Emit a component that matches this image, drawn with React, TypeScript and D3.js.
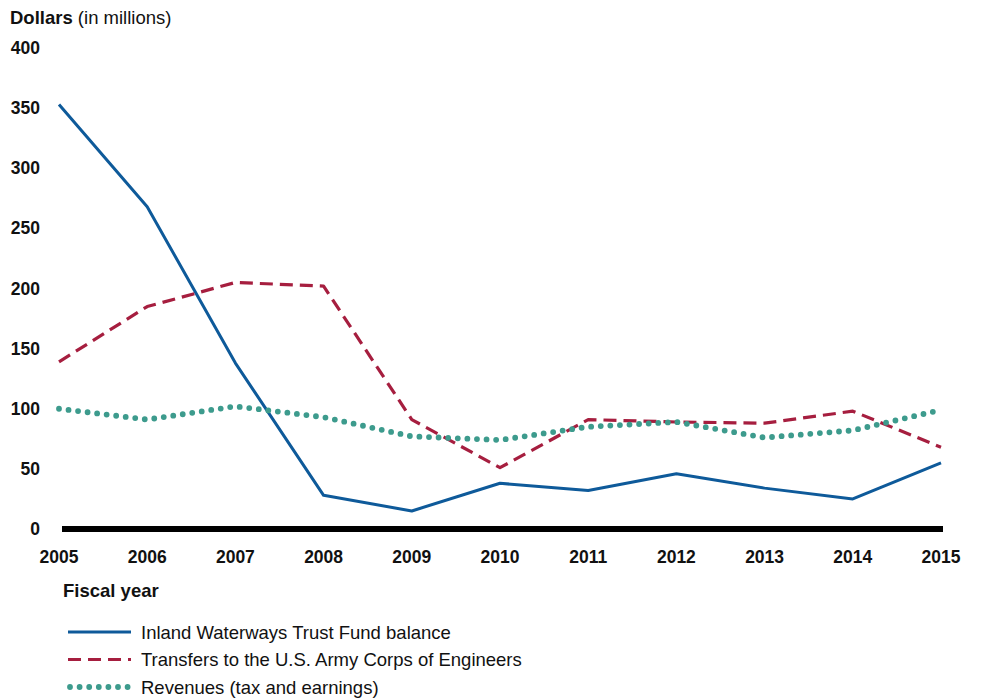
import React from "react";
import * as d3 from "d3";

const years = [2005, 2006, 2007, 2008, 2009, 2010, 2011, 2012, 2013, 2014, 2015];
const trustFund = [353, 268, 138, 28, 15, 38, 32, 46, 34, 25, 55];
const transfers = [139, 185, 205, 202, 91, 51, 91, 89, 88, 98, 68];
const revenues = [100, 91, 102, 93, 77, 74, 85, 89, 76, 82, 99];
const yTicks = [0, 50, 100, 150, 200, 250, 300, 350, 400];

const BLUE = "#0e5a9a";
const RED = "#a61e3f";
const TEAL = "#3d9b8d";
const FONT = "Liberation Sans, Arial, sans-serif";

export default function App() {
  const W = 982, H = 698;
  const x = d3.scaleLinear().domain([2005, 2015]).range([59, 941]);
  const y = d3.scaleLinear().domain([0, 400]).range([529, 48]);
  const line = d3.line<number>().x((_, i) => x(years[i])).y((d) => y(d));

  const series = [
    { name: "Inland Waterways Trust Fund balance", data: trustFund, color: BLUE, width: 3, dash: undefined as string | undefined, cap: "butt" },
    { name: "Transfers to the U.S. Army Corps of Engineers", data: transfers, color: RED, width: 3.2, dash: "13 7", cap: "butt" },
    { name: "Revenues (tax and earnings)", data: revenues, color: TEAL, width: 5.8, dash: "0 9.6", cap: "round" },
  ];

  return (
    <svg width={W} height={H} style={{ position: "absolute", left: 0, top: 0 }} fontFamily={FONT}>
      <rect width={W} height={H} fill="#fff" />
      <text x={10} y={24} fontSize={18.5} fill="#111">
        <tspan fontWeight="bold">Dollars</tspan>
        <tspan> (in millions)</tspan>
      </text>
      {yTicks.map((t) => (
        <text key={t} x={40} y={y(t) + 6} textAnchor="end" fontSize={17.5} fontWeight="bold" fill="#111">
          {t}
        </text>
      ))}
      {years.map((yr) => (
        <text key={yr} x={x(yr)} y={563} textAnchor="middle" fontSize={17.5} fontWeight="bold" fill="#111">
          {yr}
        </text>
      ))}
      <line x1={62} x2={943} y1={y(0)} y2={y(0)} stroke="#000" strokeWidth={6} />
      {series.map((s) => (
        <path
          key={s.name}
          d={line(s.data) || ""}
          fill="none"
          stroke={s.color}
          strokeWidth={s.width}
          strokeDasharray={s.dash}
          strokeLinecap={s.cap as any}
          strokeLinejoin="round"
        />
      ))}
      <text x={63} y={597} fontSize={18.5} fontWeight="bold" fill="#111">Fiscal year</text>
      {series.map((s, i) => {
        const ly = 632 + i * 27.5;
        return (
          <g key={s.name}>
            <line x1={s.cap === "round" ? 70 : 68} x2={s.cap === "round" ? 130 : 131} y1={ly} y2={ly}
              stroke={s.color} strokeWidth={s.width} strokeDasharray={s.dash} strokeLinecap={s.cap as any} />
            <text x={141} y={ly + 6.5} fontSize={18.5} fill="#111">{s.name}</text>
          </g>
        );
      })}
    </svg>
  );
}
